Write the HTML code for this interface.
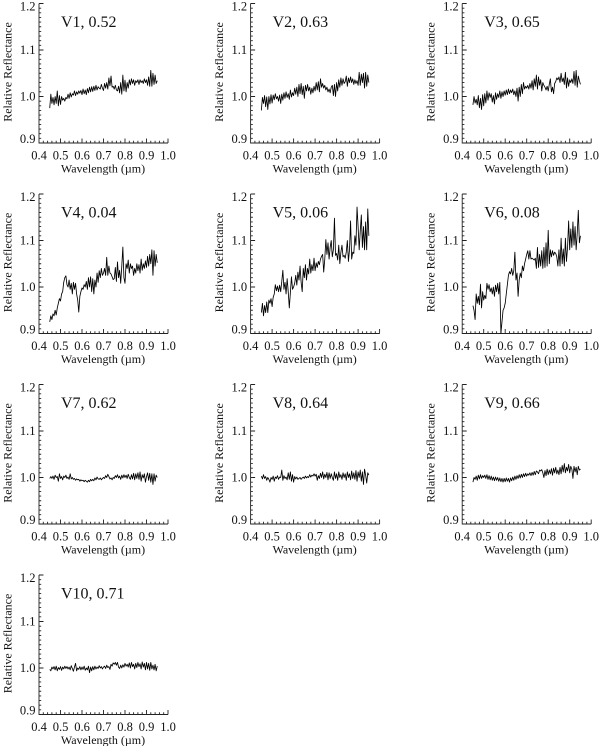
<!DOCTYPE html>
<html>
<head>
<meta charset="utf-8">
<title>Relative Reflectance Spectra</title>
<style>
html,body{margin:0;padding:0;background:#fff;}
svg{display:block;}
text{font-family:"Liberation Serif",serif;fill:#111;}
</style>
</head>
<body>
<svg id="chart" width="600" height="746" viewBox="0 0 600 746" xmlns="http://www.w3.org/2000/svg"></svg>
<script>
const wavelengths = [
0.450,0.455,0.460,0.465,0.470,0.475,0.480,0.485,0.490,0.495,
0.500,0.505,0.510,0.515,0.520,0.525,0.530,0.535,0.540,0.545,
0.550,0.555,0.560,0.565,0.570,0.575,0.580,0.585,0.590,0.595,
0.600,0.605,0.610,0.615,0.620,0.625,0.630,0.635,0.640,0.645,
0.650,0.655,0.660,0.665,0.670,0.675,0.680,0.685,0.690,0.695,
0.700,0.705,0.710,0.715,0.720,0.725,0.730,0.735,0.740,0.745,
0.750,0.755,0.760,0.765,0.770,0.775,0.780,0.785,0.790,0.795,
0.800,0.805,0.810,0.815,0.820,0.825,0.830,0.835,0.840,0.845,
0.850,0.855,0.860,0.865,0.870,0.875,0.880,0.885,0.890,0.895,
0.900,0.905,0.910,0.915,0.920,0.925,0.930,0.935,0.940,0.945,
0.950];
const panelLabels = ["V1, 0.52","V2, 0.63","V3, 0.65","V4, 0.04","V5, 0.06","V6, 0.08","V7, 0.62","V8, 0.64","V9, 0.66","V10, 0.71"];
const xTickLabels = ["0.4","0.5","0.6","0.7","0.8","0.9","1.0"];
const yTickLabels = ["0.9","1.0","1.1","1.2"];
const xTitle = "Wavelength (\u00b5m)";
const yTitle = "Relative Reflectance";
const seriesV1 = [
.975,1.005,.985,.998,.982,1.000,.985,1.012,.980,1.002,
.983,1.000,.992,.996,.990,.998,.995,1.005,.996,1.008,
.999,1.006,1.003,1.012,1.002,1.010,1.005,1.012,1.007,1.013,
1.004,1.016,1.006,1.014,1.004,1.017,1.008,1.020,1.010,1.021,
1.011,1.022,1.013,1.024,1.014,1.021,1.018,1.016,1.026,1.018,
1.013,1.028,1.018,1.030,1.016,1.040,1.023,1.044,1.020,1.022,
1.016,1.024,1.014,1.012,1.022,1.008,1.030,1.005,1.046,1.012,
1.035,1.010,1.030,1.018,1.036,1.025,1.038,1.028,1.036,1.024,
1.034,1.030,1.036,1.026,1.036,1.030,1.034,1.028,1.038,1.030,
1.036,1.024,1.042,1.022,1.056,1.022,1.050,1.026,1.046,1.028,
1.034];
const seriesV2 = [
.970,.998,.985,1.002,.978,.999,.972,1.000,.984,1.004,
.986,1.003,.993,1.006,.995,1.000,.990,1.003,.985,1.005,
.992,1.008,.996,1.010,.998,1.006,.994,1.014,.999,1.008,
1.002,1.018,1.005,1.020,1.000,1.026,1.006,1.028,1.004,1.022,
.996,1.024,1.012,1.026,1.012,1.020,1.005,1.018,1.008,1.022,
1.012,1.030,1.014,1.032,1.010,1.038,1.020,1.028,1.018,1.024,
1.014,1.020,1.010,1.016,1.008,1.020,1.024,1.002,1.026,1.000,
1.030,1.012,1.036,1.020,1.040,1.024,1.038,1.028,1.032,1.044,
1.022,1.040,1.030,1.042,1.030,1.038,1.026,1.036,1.028,1.034,
1.024,1.052,1.024,1.048,1.030,1.050,1.018,1.052,1.022,1.046,
1.030];
const seriesV3 = [
.982,1.000,.986,.994,.982,1.002,.976,.996,.972,1.004,
.980,1.006,.986,1.012,.992,1.008,.998,1.006,.988,1.002,
.984,1.008,.994,1.006,.998,1.012,.996,1.010,1.000,1.012,
1.003,1.014,1.004,1.016,1.006,1.014,1.008,1.016,1.004,1.012,
1.000,1.018,.990,1.020,1.000,1.026,1.006,1.030,1.016,1.022,
1.018,1.024,1.016,1.028,1.018,1.034,1.014,1.038,1.022,1.046,
1.016,1.042,1.024,1.036,1.012,1.030,1.024,1.020,1.014,1.022,
1.012,1.026,1.038,1.010,1.020,1.006,1.028,1.032,1.040,1.036,
1.042,1.030,1.050,1.032,1.040,1.026,1.052,1.018,1.040,1.022,
1.036,1.030,1.038,1.028,1.054,1.024,1.056,1.020,1.044,1.034,
1.026];
const seriesV4 = [
.925,.938,.930,.942,.938,.950,.940,.955,.965,.975,
.970,.985,.990,1.010,1.020,1.024,1.005,1.000,1.015,.995,
1.008,.985,1.010,.995,1.008,.985,.972,.946,.980,.990,
.998,.995,1.005,1.000,1.012,.995,1.020,1.000,1.022,.990,
1.018,.985,1.015,1.000,1.030,1.010,1.035,1.020,1.040,1.025,
1.030,1.040,1.025,1.064,1.025,1.045,1.030,1.028,1.022,1.016,
1.018,1.042,1.012,1.054,1.020,1.036,1.008,1.045,1.086,1.020,
1.008,1.050,1.040,1.058,1.030,1.050,1.040,1.045,1.025,1.040,
1.030,1.050,1.035,1.048,1.030,1.060,1.036,1.050,1.040,1.056,
1.042,1.066,1.045,1.070,1.050,1.080,1.025,1.078,1.045,1.070,
1.052];
const seriesV5 = [
.945,.965,.938,.960,.945,.968,.945,.972,.965,.975,
.958,.978,.985,1.005,.992,1.002,.990,1.004,.990,1.012,
1.036,.995,1.010,.985,1.018,.990,.955,.988,1.022,.995,
1.000,1.008,1.025,1.004,1.032,1.015,1.045,1.010,.990,1.040,
1.020,1.048,1.015,1.040,1.028,1.060,1.030,1.048,1.035,1.062,
1.035,1.052,1.042,1.055,1.048,1.060,1.066,1.070,1.032,1.060,
1.102,1.070,1.095,1.060,1.085,1.100,1.065,1.080,1.148,1.068,
1.072,1.058,1.090,1.050,1.075,1.090,1.065,1.068,1.062,1.075,
1.100,1.055,1.080,1.142,1.060,1.075,1.072,1.110,1.090,1.172,
1.130,1.080,1.120,1.155,1.085,1.130,1.080,1.140,1.080,1.168,
1.110];
const seriesV6 = [
.960,.950,.930,.985,.965,.980,.962,1.006,.955,.990,
.972,.982,.975,1.008,.995,1.005,.990,.998,.985,1.000,
.980,1.004,.990,1.008,.985,1.010,.900,.925,.950,.955,
.965,.985,1.005,1.025,1.033,1.028,1.040,1.025,1.035,1.075,
1.015,1.030,.980,1.015,1.030,1.020,1.045,1.035,1.050,1.060,
1.070,1.078,1.060,1.078,1.060,1.062,1.060,1.058,1.062,1.040,
1.085,1.042,1.070,1.045,1.078,1.040,1.085,1.042,1.095,1.045,
1.122,1.050,1.080,1.065,1.078,1.068,1.075,1.072,1.065,1.045,
1.080,1.045,1.105,1.050,1.082,1.045,1.105,1.055,1.085,1.142,
1.080,1.125,1.085,1.140,1.090,1.130,1.080,1.115,1.165,1.095,
1.110];
const seriesV7 = [
.998,1.002,.998,1.003,.996,1.005,1.000,1.002,.992,1.008,
.998,1.002,.995,1.003,1.000,1.005,.998,1.001,.996,1.008,
.997,1.000,.996,.998,.994,.997,.995,.996,.992,.995,
.993,.994,.991,.994,.992,.990,.994,.991,.996,.993,
.996,.993,.999,.995,1.001,.997,.996,.999,.995,.998,
1.000,.998,1.004,1.000,1.007,1.002,.997,.999,.995,1.000,
.998,1.004,1.000,1.006,.999,1.003,.996,1.005,.999,1.006,
1.000,1.005,.998,1.007,1.000,.996,1.006,.997,1.009,.995,
1.008,.998,1.010,.996,1.012,.992,1.006,.999,1.008,.990,
1.002,1.010,.994,1.009,.990,1.008,.985,1.008,.992,1.005,
1.000];
const seriesV8 = [
1.003,.997,1.006,.998,1.002,.994,1.000,.996,.990,1.000,
.996,1.003,.992,1.001,.998,1.004,.996,1.001,1.000,1.016,
.994,1.004,.998,1.001,.995,1.010,.996,1.012,.992,1.006,
.990,1.002,.997,1.001,.996,.998,1.000,.996,.999,1.001,
.998,1.003,.999,1.002,1.000,1.006,1.001,1.005,1.003,1.008,
1.003,1.007,.994,1.004,.998,1.009,1.000,1.012,.997,1.007,
1.000,1.011,.995,1.010,.998,1.008,1.000,.994,1.012,.998,
1.008,.994,1.012,1.000,1.006,.996,1.010,1.000,1.008,.994,
1.012,1.000,1.008,.995,1.014,.998,1.010,.996,1.015,.992,
1.012,1.000,1.016,.992,1.012,.985,1.018,1.005,.988,1.010,
1.005];
const seriesV9 = [
.990,1.000,.996,1.003,.994,1.005,.997,1.006,.998,1.004,
1.000,1.005,.998,1.006,.996,1.004,.995,1.003,.994,1.001,
.993,1.001,.994,1.000,.992,.999,.991,.998,.990,.998,
.991,.999,.992,.998,.990,.999,.993,1.001,.994,1.003,
.996,1.004,.998,1.006,.999,1.007,1.000,1.008,1.002,1.009,
1.003,1.008,1.005,1.010,1.004,1.011,1.005,1.013,1.006,1.014,
1.012,1.008,1.016,1.014,1.017,1.010,1.000,1.015,1.004,1.018,
1.006,1.016,1.008,1.019,1.005,1.020,1.010,1.022,1.008,1.016,
1.006,1.022,1.008,1.026,1.012,1.030,1.010,1.022,1.014,1.028,
1.010,1.024,1.018,.998,1.024,1.012,1.022,1.006,1.024,1.016,
1.018];
const seriesV10 = [
.997,.994,1.002,.998,1.003,.996,1.004,.994,1.001,.997,
1.003,.995,1.002,.998,1.004,.999,1.003,.998,1.002,.996,
1.005,.999,.993,1.002,1.010,.994,1.000,.997,1.003,.996,
1.002,.997,1.004,.995,1.000,.996,1.004,.990,1.002,.994,
1.003,.996,1.004,.998,1.002,.999,1.005,1.000,1.003,.998,
1.002,1.004,.999,1.006,1.001,1.003,.997,1.008,1.004,1.011,
1.008,1.012,1.006,1.012,1.002,.999,1.006,1.000,1.007,1.002,
1.010,1.004,1.008,1.002,1.011,1.000,1.012,1.003,1.008,.998,
1.010,1.001,1.012,1.003,1.009,.998,1.013,1.002,1.010,.996,
1.012,.998,1.010,.995,1.012,.998,1.006,.996,1.008,.994,
1.004];
const allSeries = [seriesV1,seriesV2,seriesV3,seriesV4,seriesV5,seriesV6,seriesV7,seriesV8,seriesV9,seriesV10];

const NS = "http://www.w3.org/2000/svg";
const svg = document.getElementById("chart");

function make(parent, tag, attrs, txt) {
  const el = document.createElementNS(NS, tag);
  for (const k in attrs) el.setAttribute(k, attrs[k]);
  if (txt !== undefined) el.textContent = txt;
  parent.appendChild(el);
  return el;
}

function drawPanel(idx) {
  const col = idx % 3, row = Math.floor(idx / 3);
  const left = 39 + col * 211.6, right = left + 129;
  const bottom = 143 + row * 190.5, span = 139.5, top = bottom - span;
  const xScale = v => left + (v - 0.4) / 0.6 * (right - left);
  const yScale = v => bottom - (v - 0.9) / 0.3 * span;

  const g = make(svg, "g", {});
  
  

  let axisD = "M" + left + " " + top + "V" + bottom + "H" + right;
  for (let i = 0; i <= 30; i++) {
    const y = yScale(0.9 + i * 0.01);
    axisD += "M" + left + " " + y + "h" + (i % 10 === 0 ? 4.5 : 2.2);
  }
  for (let i = 0; i <= 30; i++) {
    const x = xScale(0.4 + i * 0.02);
    axisD += "M" + x + " " + bottom + "v-" + (i % 5 === 0 ? 4.5 : 2.2);
  }
  const axes = make(g, "path", {d: axisD, fill: "none", stroke: "#222", "stroke-width": "0.9"});
  
  

  xTickLabels.forEach(label => {
    const t = make(g, "text", {x: xScale(parseFloat(label)), y: bottom + 16.5, "font-size": "12.5", "text-anchor": "middle"}, label);
    
    
  });
  yTickLabels.forEach(label => {
    const cy = Math.min(bottom - 4, Math.max(top + 3, yScale(parseFloat(label))));
    const t = make(g, "text", {x: left - 3.5, y: cy + 4.2, "font-size": "12.5", "text-anchor": "end"}, label);
    
    
  });

  const xt = make(g, "text", {x: left + 64, y: bottom + 29.5, "font-size": "12", "text-anchor": "middle"}, xTitle);
  
  

  const yx = left - 27.5, yy = bottom - 71;
  const yt = make(g, "text", {x: yx, y: yy, "font-size": "12", "text-anchor": "middle", transform: "rotate(-90 " + yx + " " + yy + ")"}, yTitle);
  
  

  const title = make(g, "text", {x: left + 22, y: bottom - 116, "font-size": "16"}, panelLabels[idx]);
  
  

  const values = allSeries[idx];
  const pts = values.map((v, i) => xScale(wavelengths[i]).toFixed(2) + "," + yScale(v).toFixed(2)).join(" ");
  const line = make(g, "polyline", {points: pts, fill: "none", stroke: "#000", "stroke-width": "0.85", "stroke-linejoin": "round"});
  
  
}

for (let i = 0; i < allSeries.length; i++) drawPanel(i);
</script>
</body>
</html>
